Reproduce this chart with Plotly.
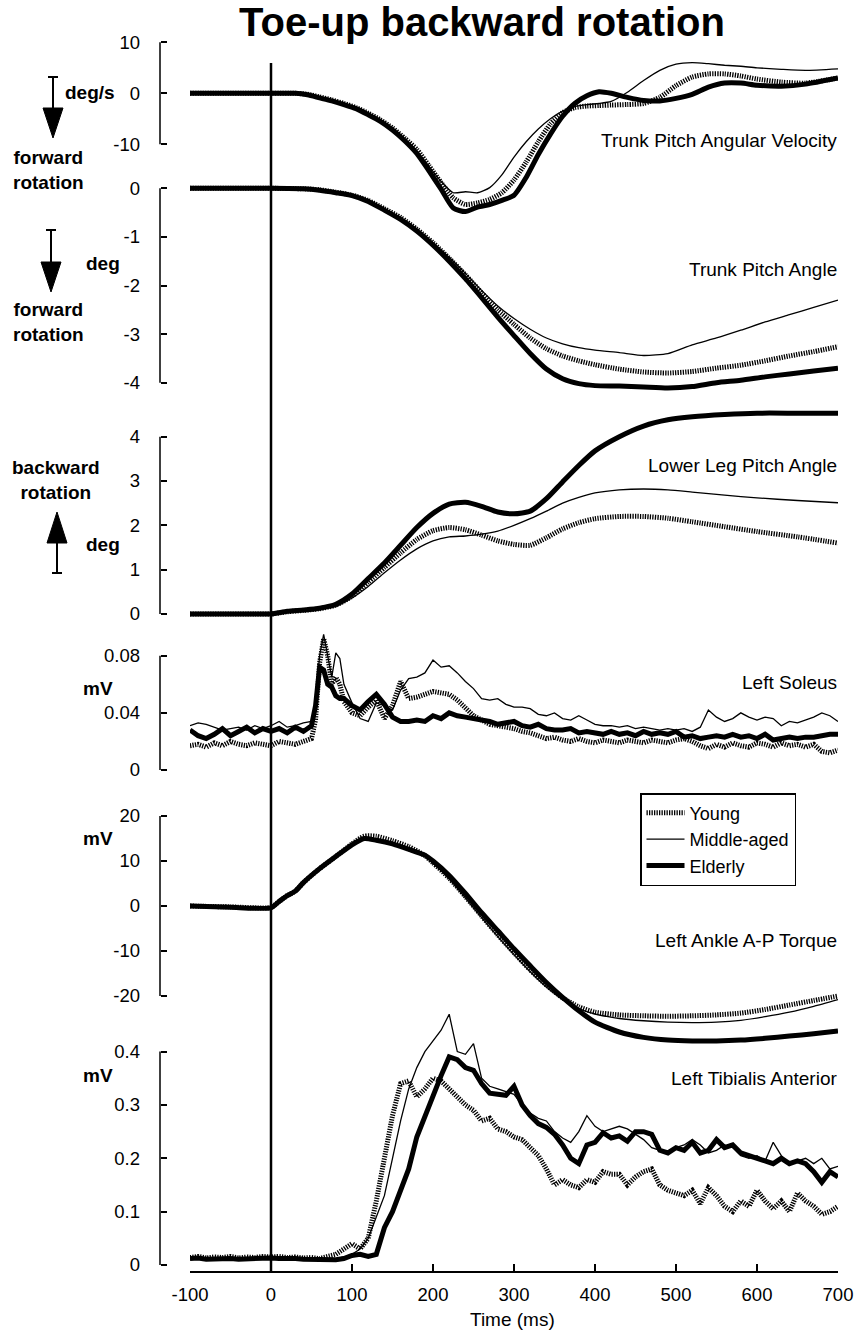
import plotly.graph_objects as go

W, H = 862, 1330

# ---------------- data ----------------
groups = ["Young", "Middle-aged", "Elderly"]
x_ticks = [-100, 0, 100, 200, 300, 400, 500, 600, 700]
x_tick_text = ["-100", "0", "100", "200", "300", "400", "500", "600", "700"]

panel_titles = ["Trunk Pitch Angular Velocity", "Trunk Pitch Angle", "Lower Leg Pitch Angle",
                "Left Soleus", "Left Ankle A-P Torque", "Left Tibialis Anterior"]

# Panel 1: trunk pitch angular velocity (deg/s)
t_vel = [-100, 0, 30, 45, 60, 75, 90, 105, 120, 135, 150, 165, 180, 195, 210, 225, 240, 255, 270, 285,
         300, 315, 330, 345, 360, 375, 390, 405, 420, 440, 460, 480, 500, 520, 540, 560, 580, 600, 630, 660, 700]
vel_young = [0, 0, 0, -0.2, -0.7, -1.3, -2.0, -2.8, -3.9, -5.2, -6.8, -8.8, -11.0, -14.2, -17.5, -20.5, -21.8,
             -21.5, -20.8, -19.5, -17.0, -13.5, -9.5, -6.0, -3.8, -2.8, -2.5, -2.4, -2.3, -2.2, -2.0, -0.8,
             1.5, 3.2, 3.8, 3.8, 3.4, 2.8, 2.2, 2.0, 3.0]
vel_middle = [0, 0, 0, -0.3, -0.8, -1.4, -2.1, -2.9, -4.0, -5.3, -7.0, -9.0, -11.3, -14.3, -17.3, -19.5, -19.3,
              -19.5, -18.5, -16.0, -12.5, -9.5, -7.0, -5.0, -3.5, -2.6, -2.2, -2.0, -1.6, 0.2, 2.5, 4.5,
              5.7, 6.0, 5.8, 5.5, 5.3, 5.0, 4.7, 4.5, 4.8]
vel_elderly = [0, 0, 0, -0.3, -0.9, -1.5, -2.2, -3.0, -4.2, -5.5, -7.2, -9.3, -11.8, -15.2, -18.8, -22.5, -23.2,
               -22.3, -21.8, -21.0, -20.0, -16.5, -12.0, -8.0, -4.5, -2.0, -0.5, 0.3, 0.0, -0.8, -1.4, -1.5,
               -1.0, -0.2, 1.2, 2.0, 2.0, 1.6, 1.4, 1.8, 3.0]

# Panel 2: trunk pitch angle (deg)
t_ang = [-100, 0, 40, 60, 80, 100, 120, 140, 160, 180, 200, 220, 240, 260, 280, 300, 320, 340, 360, 380, 400,
         430, 460, 490, 520, 550, 580, 610, 640, 670, 700]
ang_young = [0, 0, -0.01, -0.03, -0.08, -0.14, -0.25, -0.42, -0.6, -0.84, -1.12, -1.44, -1.78, -2.15, -2.5,
             -2.8, -3.08, -3.3, -3.45, -3.55, -3.63, -3.72, -3.78, -3.8, -3.77, -3.7, -3.64, -3.55, -3.45,
             -3.36, -3.26]
ang_middle = [0, 0, -0.01, -0.03, -0.08, -0.14, -0.25, -0.43, -0.62, -0.86, -1.12, -1.42, -1.75, -2.1, -2.42,
              -2.68, -2.9, -3.08, -3.2, -3.28, -3.33, -3.38, -3.44, -3.4, -3.22, -3.08, -2.92, -2.75, -2.6,
              -2.45, -2.3]
ang_elderly = [0, 0, -0.01, -0.04, -0.09, -0.15, -0.27, -0.45, -0.64, -0.88, -1.17, -1.5, -1.86, -2.25, -2.65,
               -3.03, -3.4, -3.72, -3.92, -4.02, -4.06, -4.07, -4.09, -4.11, -4.08, -4.0, -3.95, -3.88, -3.82,
               -3.76, -3.7]

# Panel 3: lower leg pitch angle (deg)
t_leg = [-100, -20, 0, 20, 40, 60, 80, 100, 120, 140, 160, 180, 200, 220, 240, 260, 280, 300, 320, 340, 360,
         380, 400, 430, 460, 490, 520, 560, 600, 650, 700]
leg_young = [0, 0, 0, 0.05, 0.08, 0.12, 0.2, 0.4, 0.72, 1.05, 1.38, 1.68, 1.88, 1.95, 1.9, 1.78, 1.65, 1.57,
             1.55, 1.72, 1.92, 2.06, 2.15, 2.2, 2.2, 2.16, 2.08, 1.97, 1.86, 1.74, 1.6]
leg_middle = [0, 0, 0, 0.04, 0.07, 0.1, 0.17, 0.36, 0.62, 0.93, 1.22, 1.47, 1.65, 1.74, 1.76, 1.8, 1.87, 2.0,
              2.15, 2.32, 2.5, 2.63, 2.73, 2.8, 2.82, 2.8, 2.75, 2.68, 2.62, 2.56, 2.51]
leg_elderly = [0, 0, 0, 0.06, 0.09, 0.13, 0.22, 0.45, 0.8, 1.15, 1.55, 1.95, 2.27, 2.48, 2.52, 2.43, 2.3, 2.26,
               2.32, 2.6, 2.98, 3.35, 3.68, 4.0, 4.24, 4.38, 4.45, 4.5, 4.53, 4.53, 4.53]

# Panel 4: left soleus EMG (mV)
t_sol = [-100, -90, -80, -70, -60, -50, -40, -30, -20, -10, 0, 10, 20, 30, 40, 50,
         55, 60, 65, 70, 75, 80, 85, 90,
         100, 110, 120, 130, 140, 150, 160, 170, 180, 190, 200, 210, 220, 230, 240, 250, 260, 270, 280, 290,
         300, 310, 320, 330, 340, 350, 360, 370, 380, 390, 400, 410, 420, 430, 440, 450, 460, 470, 480, 490,
         500, 510, 520, 530, 540, 550, 560, 570, 580, 590, 600, 610, 620, 630, 640, 650, 660, 670, 680, 690, 700]
sol_young = [0.017, 0.018, 0.016, 0.019, 0.017, 0.020, 0.018, 0.017, 0.019, 0.018, 0.017, 0.020, 0.019, 0.018,
             0.020, 0.022,
             0.035, 0.075, 0.092, 0.080, 0.060, 0.065, 0.060, 0.048,
             0.040, 0.038, 0.044, 0.049, 0.036, 0.045, 0.062, 0.050, 0.051, 0.053,
             0.055, 0.054, 0.053, 0.049, 0.043, 0.038, 0.035, 0.032, 0.031, 0.030,
             0.029, 0.027, 0.026, 0.024, 0.022, 0.023, 0.021, 0.020, 0.022, 0.020,
             0.019, 0.021, 0.020, 0.019, 0.021, 0.020, 0.019, 0.021, 0.020, 0.019,
             0.021, 0.022, 0.020, 0.017, 0.015, 0.018, 0.016, 0.019, 0.017, 0.016,
             0.019, 0.018, 0.016, 0.019, 0.017, 0.018, 0.016, 0.018, 0.013, 0.012, 0.014]
sol_middle = [0.031, 0.033, 0.032, 0.030, 0.028, 0.029, 0.030, 0.028, 0.031, 0.029, 0.031, 0.034, 0.030, 0.031,
              0.033, 0.034,
              0.045, 0.080, 0.095, 0.080, 0.065, 0.082, 0.078, 0.060,
              0.047, 0.036, 0.034, 0.047, 0.045, 0.042, 0.056, 0.064, 0.065, 0.068,
              0.077, 0.072, 0.073, 0.068, 0.062, 0.057, 0.050, 0.049, 0.050, 0.046,
              0.044, 0.044, 0.043, 0.039, 0.038, 0.040, 0.036, 0.035, 0.038, 0.035,
              0.032, 0.031, 0.031, 0.030, 0.031, 0.029, 0.030, 0.029, 0.028, 0.029,
              0.028, 0.029, 0.027, 0.030, 0.042, 0.037, 0.034, 0.036, 0.040, 0.037,
              0.035, 0.037, 0.036, 0.031, 0.034, 0.033, 0.035, 0.037, 0.040, 0.038, 0.034]
sol_elderly = [0.028, 0.024, 0.022, 0.025, 0.029, 0.024, 0.027, 0.030, 0.026, 0.029, 0.027, 0.029, 0.026, 0.030,
               0.027, 0.031,
               0.045, 0.072, 0.070, 0.060, 0.058, 0.052, 0.050, 0.050,
               0.045, 0.042, 0.048, 0.053, 0.046, 0.037, 0.034, 0.034, 0.035, 0.034,
               0.038, 0.036, 0.040, 0.038, 0.037, 0.036, 0.035, 0.034, 0.032, 0.033,
               0.034, 0.031, 0.030, 0.032, 0.029, 0.028, 0.028, 0.029, 0.026, 0.027,
               0.026, 0.025, 0.027, 0.025, 0.026, 0.024, 0.027, 0.025, 0.026, 0.025,
               0.027, 0.023, 0.024, 0.022, 0.023, 0.024, 0.023, 0.025, 0.023, 0.024,
               0.022, 0.025, 0.021, 0.022, 0.023, 0.022, 0.023, 0.023, 0.024, 0.025, 0.025]

# Panel 5: left ankle A-P torque
t_tq = [-100, -50, 0, 10, 20, 30, 40, 60, 80, 100, 115, 130, 150, 170, 190, 200, 220, 240, 260, 280, 300, 320,
        340, 360, 380, 400, 430, 460, 490, 520, 550, 580, 610, 640, 670, 700]
tq_young = [0, -0.2, -0.3, 1.0, 2.3, 3.3, 5.2, 8.3, 11.0, 13.8, 15.5, 15.5, 14.5, 13.2, 11.2, 9.6, 6.2, 2.1,
            -2.2, -6.4, -10.4, -14.2, -17.6, -20.4, -22.4, -23.6, -24.2, -24.4, -24.5, -24.4, -24.2, -23.8,
            -23.0, -22.0, -21.0, -20.0]
tq_middle = [0, -0.2, -0.3, 1.0, 2.3, 3.3, 5.2, 8.3, 11.0, 13.6, 15.0, 14.8, 13.8, 12.6, 11.0, 9.5, 6.0, 1.8,
             -2.6, -6.8, -10.8, -14.6, -18.0, -20.8, -22.8, -24.0, -25.0, -25.5, -25.8, -25.9, -25.8, -25.4,
             -24.6, -23.6, -22.3, -20.8]
tq_elderly = [0, -0.3, -0.4, 1.0, 2.3, 3.3, 5.2, 8.3, 11.0, 13.6, 15.0, 14.6, 13.8, 12.6, 11.3, 10.0, 6.8, 2.8,
              -1.5, -5.5, -9.5, -13.3, -17.0, -20.3, -23.3, -25.8, -28.0, -29.2, -29.8, -30.0, -30.0, -29.8,
              -29.4, -28.9, -28.4, -27.8]

# Panel 6: left tibialis anterior EMG (mV)
t_ta = [-100, -90, -80, -70, -60, -50, -40, -30, -20, -10, 0, 10, 20, 30, 40, 50, 60, 70, 80, 90,
        100, 110, 120, 130, 140, 150, 160, 170, 180, 190, 200, 210, 220, 230, 240, 250, 260, 270, 280, 290,
        300, 310, 320, 330, 340, 350, 360, 370, 380, 390, 400, 410, 420, 430, 440, 450, 460, 470, 480, 490,
        500, 510, 520, 530, 540, 550, 560, 570, 580, 590, 600, 610, 620, 630, 640, 650, 660, 670, 680, 690, 700]
ta_young = [0.014, 0.016, 0.013, 0.015, 0.014, 0.016, 0.013, 0.015, 0.014, 0.016,
            0.015, 0.016, 0.014, 0.015, 0.013, 0.014, 0.012, 0.015, 0.020, 0.030,
            0.040, 0.030, 0.050, 0.120, 0.200, 0.280, 0.340, 0.345, 0.315, 0.330,
            0.350, 0.345, 0.330, 0.315, 0.300, 0.290, 0.270, 0.275, 0.255, 0.250,
            0.240, 0.235, 0.220, 0.205, 0.180, 0.150, 0.160, 0.150, 0.145, 0.160,
            0.155, 0.175, 0.170, 0.170, 0.150, 0.165, 0.175, 0.180, 0.150, 0.140,
            0.135, 0.130, 0.140, 0.115, 0.145, 0.130, 0.110, 0.100, 0.120, 0.110,
            0.140, 0.120, 0.105, 0.120, 0.100, 0.135, 0.120, 0.110, 0.095, 0.100, 0.110]
ta_middle = [0.013, 0.012, 0.013, 0.012, 0.012, 0.011, 0.012, 0.013, 0.012, 0.012,
             0.012, 0.013, 0.012, 0.012, 0.011, 0.012, 0.011, 0.010, 0.012, 0.015,
             0.020, 0.030, 0.050, 0.090, 0.130, 0.200, 0.270, 0.330, 0.370, 0.400,
             0.420, 0.440, 0.470, 0.400, 0.395, 0.415, 0.350, 0.335, 0.330, 0.325,
             0.320, 0.300, 0.285, 0.275, 0.270, 0.250, 0.238, 0.230, 0.250, 0.280,
             0.260, 0.250, 0.255, 0.260, 0.255, 0.245, 0.235, 0.220, 0.215, 0.210,
             0.220, 0.225, 0.235, 0.225, 0.210, 0.215, 0.225, 0.220, 0.205, 0.200,
             0.205, 0.195, 0.230, 0.205, 0.190, 0.195, 0.200, 0.190, 0.200, 0.180, 0.185]
ta_elderly = [0.012, 0.013, 0.011, 0.012, 0.011, 0.012, 0.011, 0.012, 0.012, 0.013,
              0.013, 0.012, 0.013, 0.012, 0.011, 0.011, 0.010, 0.009, 0.010, 0.012,
              0.018, 0.020, 0.016, 0.020, 0.070, 0.100, 0.140, 0.180, 0.240, 0.280,
              0.320, 0.355, 0.390, 0.385, 0.370, 0.365, 0.340, 0.322, 0.320, 0.318,
              0.335, 0.300, 0.280, 0.265, 0.258, 0.245, 0.225, 0.200, 0.190, 0.225,
              0.230, 0.248, 0.238, 0.242, 0.232, 0.250, 0.250, 0.245, 0.215, 0.210,
              0.220, 0.215, 0.230, 0.210, 0.215, 0.235, 0.220, 0.225, 0.210, 0.205,
              0.200, 0.195, 0.190, 0.200, 0.190, 0.195, 0.190, 0.175, 0.155, 0.175, 0.165]

# y tick values / labels per panel
yt_vel = [10, 0, -10]
yt_vel_text = ["10", "0", "-10"]
yt_ang = [0, -1, -2, -3, -4]
yt_ang_text = ["0", "-1", "-2", "-3", "-4"]
yt_leg = [4, 3, 2, 1, 0]
yt_leg_text = ["4", "3", "2", "1", "0"]
yt_sol = [0.08, 0.04, 0]
yt_sol_text = ["0.08", "0.04", "0"]
yt_tq = [20, 10, 0, -10, -20]
yt_tq_text = ["20", "10", "0", "-10", "-20"]
yt_ta = [0.4, 0.3, 0.2, 0.1, 0]
yt_ta_text = ["0.4", "0.3", "0.2", "0.1", "0"]

# ---------------- layout helpers ----------------
FONT = "Liberation Sans, Arial, Helvetica, sans-serif"


def px(x):
    return x / W


def py(y):
    return 1 - y / H


# pixel placement of each panel's scale: (pixel of zero, pixels per unit)
panel_px = [(93.3, 5.1), (188.3, 48.6), (614.0, 44.33), (770.0, 1428.0), (906.0, 4.5), (1265.0, 533.5)]
label_y = [140, 270, 465, 682, 940, 1078]

panels = [
    (t_vel, [vel_young, vel_middle, vel_elderly], yt_vel, yt_vel_text, "spline"),
    (t_ang, [ang_young, ang_middle, ang_elderly], yt_ang, yt_ang_text, "spline"),
    (t_leg, [leg_young, leg_middle, leg_elderly], yt_leg, yt_leg_text, "spline"),
    (t_sol, [sol_young, sol_middle, sol_elderly], yt_sol, yt_sol_text, "linear"),
    (t_tq, [tq_young, tq_middle, tq_elderly], yt_tq, yt_tq_text, "spline"),
    (t_ta, [ta_young, ta_middle, ta_elderly], yt_ta, yt_ta_text, "linear"),
]

styles = {
    "Young": dict(color="black", width=5, dash="1.3px,1.2px"),
    "Middle-aged": dict(color="black", width=1.3),
    "Elderly": dict(color="black", width=5),
}
draw_order = [0, 2, 1]

fig = go.Figure()
layout_axes = {}
shapes = []
annotations = []

for i, (t, series, tv, tt, shape) in enumerate(panels):
    yname = "y" if i == 0 else f"y{i + 1}"
    lname = "yaxis" if i == 0 else f"yaxis{i + 1}"
    zero, scale = panel_px[i]
    for k in draw_order:
        g = groups[k]
        ln = dict(styles[g])
        ln["shape"] = shape
        if shape == "spline":
            ln["smoothing"] = 0.6
        fig.add_trace(go.Scatter(
            x=t, y=series[k], mode="lines", name=g, line=ln,
            yaxis=yname, xaxis="x", legendgroup=g,
            showlegend=(i == 0), legendrank=k + 1,
        ))
    ax = dict(
        domain=[0, 1], range=[(zero - H) / scale, zero / scale],
        anchor="free", position=px(160), side="left",
        tickmode="array", tickvals=tv, ticktext=tt,
        ticks="inside", ticklen=6, tickwidth=1.5, tickcolor="black",
        showline=False, showgrid=False, zeroline=False,
        tickfont=dict(family=FONT, size=18.5, color="black"),
        ticklabelstandoff=20, fixedrange=True,
    )
    if i > 0:
        ax["overlaying"] = "y"
    layout_axes[lname] = ax
    # bracket line of the scale
    shapes.append(dict(type="line", xref="paper", yref=yname, x0=px(160), x1=px(160),
                       y0=min(tv), y1=max(tv), line=dict(color="black", width=1.5)))
    annotations.append(dict(text=panel_titles[i], xref="paper", yref="paper", x=px(839), y=py(label_y[i]),
                            xanchor="right", yanchor="middle", showarrow=False,
                            font=dict(family=FONT, size=19, color="black")))

# stimulus onset line at 0 ms
shapes.append(dict(type="line", xref="x", yref="paper", x0=0, x1=0, y0=py(1272), y1=py(63),
                   line=dict(color="black", width=2.5)))

# unit / direction labels
bold = dict(family=FONT, size=19, color="black")
for txt, xx, yy in [("<b>deg/s</b>", 90, 93), ("<b>deg</b>", 103, 263), ("<b>deg</b>", 103, 544),
                    ("<b>mV</b>", 98, 688), ("<b>mV</b>", 98, 838), ("<b>mV</b>", 98, 1075),
                    ("<b>forward<br>rotation</b>", 48, 170), ("<b>forward<br>rotation</b>", 48, 322),
                    ("<b>backward<br>rotation</b>", 56, 480)]:
    annotations.append(dict(text=txt, xref="paper", yref="paper", x=px(xx), y=py(yy), xanchor="center",
                            yanchor="middle", showarrow=False, align="center", font=bold))


# direction arrows (shaft with cap + triangular head)
def arrow(xc, y_cap, y_base, y_tip):
    out = [dict(type="line", xref="paper", yref="paper", x0=px(xc), x1=px(xc), y0=py(y_cap), y1=py(y_base),
                line=dict(color="black", width=2)),
           dict(type="line", xref="paper", yref="paper", x0=px(xc - 5), x1=px(xc + 5), y0=py(y_cap),
                y1=py(y_cap), line=dict(color="black", width=2))]
    path = (f"M {px(xc - 10)} {py(y_base)} L {px(xc + 10)} {py(y_base)} L {px(xc)} {py(y_tip)} Z")
    out.append(dict(type="path", xref="paper", yref="paper", path=path, fillcolor="black",
                    line=dict(color="black", width=1)))
    return out


shapes += arrow(53, 77, 108, 138)
shapes += arrow(51, 230, 262, 292)
shapes += arrow(57, 573, 543, 512)

annotations.append(dict(text="<b>Toe-up backward rotation</b>", xref="paper", yref="paper", x=px(482),
                        y=py(22), xanchor="center", yanchor="middle", showarrow=False,
                        font=dict(family=FONT, size=40, color="black")))
annotations.append(dict(text="Time (ms)", xref="paper", yref="paper", x=px(512), y=py(1319),
                        xanchor="center", yanchor="middle", showarrow=False,
                        font=dict(family=FONT, size=19, color="black")))

fig.update_layout(
    template="none",
    width=W, height=H,
    margin=dict(l=0, r=0, t=0, b=0, pad=0),
    paper_bgcolor="white", plot_bgcolor="rgba(0,0,0,0)",
    xaxis=dict(domain=[px(190), px(838)], range=[-100, 700], anchor="free", position=py(1272),
               tickmode="array", tickvals=x_ticks, ticktext=x_tick_text,
               ticks="inside", ticklen=7, tickwidth=1.5, tickcolor="black",
               showline=True, linecolor="black", linewidth=1.5, showgrid=False, zeroline=False,
               tickfont=dict(family=FONT, size=18.5, color="black"), ticklabelstandoff=6,
               fixedrange=True),
    shapes=shapes,
    annotations=annotations,
    showlegend=True,
    legend=dict(x=px(640), y=py(793), xanchor="left", yanchor="top",
                bordercolor="black", borderwidth=1.5, bgcolor="white",
                font=dict(family=FONT, size=18, color="black"), tracegroupgap=0,
                itemwidth=38, traceorder="normal", entrywidth=146, entrywidthmode="pixels"),
    **layout_axes,
)

fig.write_html("out.html", config={"displayModeBar": False},
               post_script="document.body.style.margin='0';")
